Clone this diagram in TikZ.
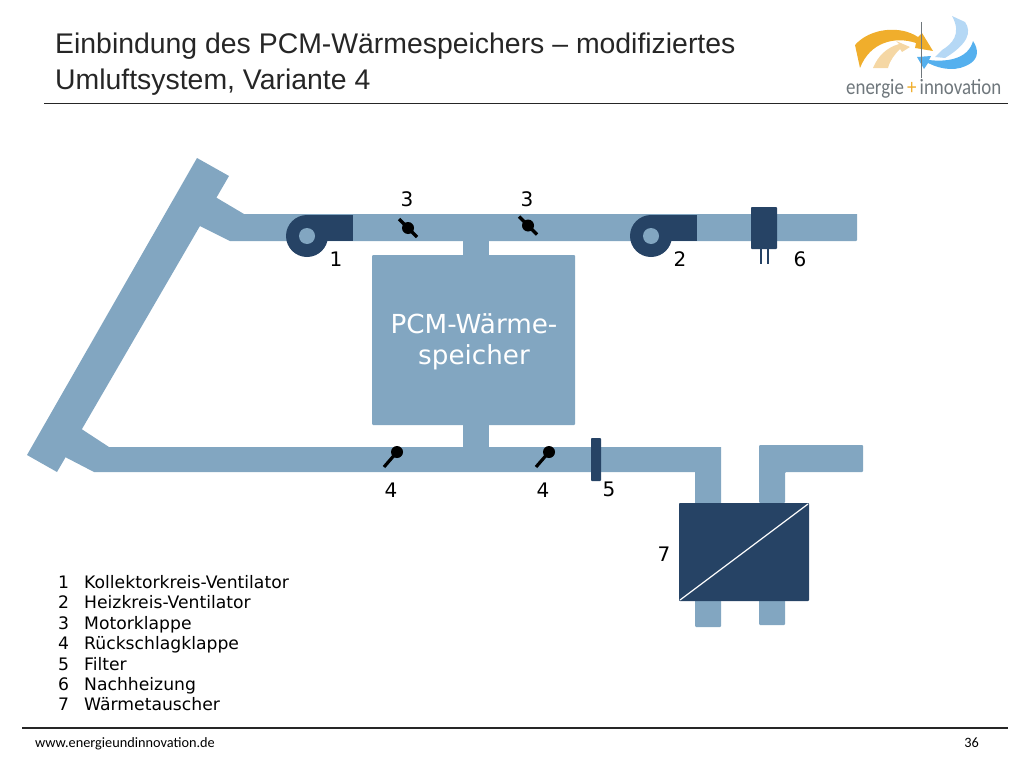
\documentclass[tikz,border=0pt]{standalone}
\usepackage{fontspec}
\setmainfont{DejaVu Sans}
\newfontfamily\titlefont{Liberation Sans}
\newfontfamily\footfont{Carlito}
\definecolor{ductblue}{HTML}{82A6C1}
\definecolor{darkblue}{HTML}{264365}
\definecolor{logoorange}{HTML}{F0AE2C}
\definecolor{logopale}{HTML}{F5D7A4}
\definecolor{logoblue}{HTML}{55B0EE}
\definecolor{logosky}{HTML}{B5D8F5}
\definecolor{logogray}{HTML}{6F777C}
\tikzset{
  duct/.style={fill=ductblue},
  part/.style={fill=darkblue,rounded corners=.8pt},
  flap/.style={line width=3.2pt,black},
  number/.style={font=\fontsize{20}{20}\selectfont,text=black},
  legend/.style={font=\fontsize{17.2}{17.2}\selectfont,anchor=base west,inner sep=0pt},
  titleline/.style={font=\titlefont\fontsize{28.4}{28.4}\selectfont,anchor=base west,inner sep=0pt,text=black!85},
  rulebar/.style={line width=1.4pt,black!85},
}
\begin{document}
\begin{tikzpicture}[x=1pt,y=-1pt]
    \useasboundingbox (0,0) rectangle (1024,768);
    % title
    \node[titleline] (title1) at (55,54) {Einbindung des PCM-Wärmespeichers – modifiziertes};
    \node[titleline] (title2) at (55,89) {Umluftsystem, Variante 4};
    \draw[rulebar] (44,103.5)--(1008,103.5);
    % logo
    \fill[logosky] (952,16)--(965,22)..controls (972,32) and (968,44)..(945,58)--(935,57)--(942,50)..controls (952,44) and (962,34)..(952,16)--cycle;
    \fill[logoblue] (973,41)..controls (979,50) and (978,58)..(971,63)..controls (958,72) and (942,70)..(928,63)--(924,69)--(917,57)--(931,56)--(929,60)..controls (945,62) and (968,60)..(973,41)--cycle;
    \fill[logopale] (873,68)..controls (878,56) and (886,48)..(899,44)--(896,41)--(910,47)--(902,52)--(900,49)..controls (895,54) and (890,60)..(888,68)--cycle;
    \fill[logoorange] (855,45)..controls (870,28) and (900,25)..(918,37)--(922,33)--(933,51)--(915,48)--(916,43)..controls (895,36) and (870,42)..(860,68)--cycle;
    \draw[logogray,line width=1pt] (921,22)--(921,78);
    \node[font=\footfont\fontsize{22}{22}\selectfont,text=logogray,anchor=base west,inner sep=0pt,xscale=.86] (logotext) at (846,94) {energie\,{\color{logoorange}+}\,innovation};
    % ducts
    \fill[duct] (197,158)--(229,176)--(57,472)--(27,455)--cycle;
    \fill[duct] (205,190)--(217,198)--(244,214)--(857,214) [rounded corners=1pt]--(857,241)[sharp corners]--(230,241)--(200,226)--(190,220)--cycle;
    \fill[duct] (75,424)--(83,430)--(109,447)--(721,447)--(721,503)--(695,503)--(695,472)--(94,472)--(67,458)--(60,454)--cycle;
    \fill[duct] (463,241) rectangle (489,255);
    \fill[duct] (463,425) rectangle (489,447);
    \fill[duct,rounded corners=1pt] (372,255) rectangle (575,425);
    \fill[duct,rounded corners=1pt] (759,503)--(759,445)--(863,445)--(863,472)--(785,472)--(785,503)--cycle;
    \fill[duct,rounded corners=1pt] (695,595) rectangle (721,627);
    \fill[duct,rounded corners=1pt] (759,595) rectangle (785,625);
    \node[font=\fontsize{26.2}{31}\selectfont,text=white,align=center,inner sep=0pt] (speicher) at (474,342) {PCM-Wärme-\\speicher};
    % fans
    \foreach \fx/\fname in {307/1,651/2}{
      \fill[darkblue] (\fx,236) circle (21);
      \fill[darkblue] (\fx,214.5) rectangle (\fx+46,241);
      \fill[ductblue] (\fx,236) circle (8);
    }
    % flaps
    \foreach \vx/\vy in {408/228,528/225.5}{
      \draw[flap] (\vx-9,\vy-9)--(\vx+9,\vy+9);
      \fill (\vx,\vy) circle (6);
    }
    \foreach \cx in {397,549}{
      \draw[flap] (\cx,452)--(\cx-13,467);
      \fill (\cx,452) circle (6);
    }
    % filter, heater
    \fill[part] (591,438) rectangle (601,481);
    \fill[part] (751,207) rectangle (777,249);
    \draw[darkblue,line width=2.4pt] (761,249)--(761,264);
    \draw[darkblue,line width=2.4pt] (768,249)--(768,264);
    % exchanger
    \fill[part] (679,503) rectangle (809,601);
    \draw[white,line width=1.2pt] (680,600)--(808,504);
    % numbers
    \node[number] (n1) at (336,259) {1};
    \node[number] (n2) at (680,259) {2};
    \node[number] (n3a) at (407,199) {3};
    \node[number] (n3b) at (527,199) {3};
    \node[number] (n4a) at (391,490) {4};
    \node[number] (n4b) at (543,490) {4};
    \node[number] (n5) at (609,489) {5};
    \node[number] (n6) at (800,259) {6};
    \node[number] (n7) at (664,554) {7};
    % legend
    \foreach \lnum/\ly/\ltext in {1/588/Kollektorkreis-Ventilator,2/608.5/Heizkreis-Ventilator,3/629/Motorklappe,4/649.5/Rückschlagklappe,5/670/Filter,6/690.5/Nachheizung,7/710.5/Wärmetauscher}{
      \node[legend] (num\lnum) at (58,\ly) {\lnum};
      \node[legend] (txt\lnum) at (84,\ly) {\ltext};
    }
    % footer
    \draw[rulebar] (22,728)--(1008,728);
    \node[font=\footfont\fontsize{14.3}{14.3}\selectfont,anchor=base west,inner sep=0pt] (web) at (35,747) {www.energieundinnovation.de};
    \node[font=\footfont\fontsize{14.3}{14.3}\selectfont,anchor=base east,inner sep=0pt] (page) at (979,747) {36};
\end{tikzpicture}
\end{document}
